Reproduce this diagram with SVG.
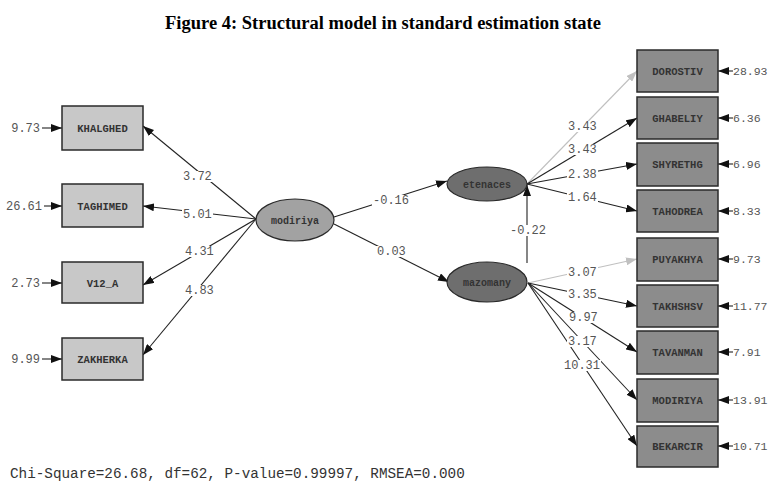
<svg xmlns="http://www.w3.org/2000/svg" width="768" height="489" viewBox="0 0 768 489">
<style>
.title{font-family:"Liberation Serif",serif;font-weight:bold;font-size:18.5px;fill:#000}
.box1 rect{fill:#c8c8c8;stroke:#2a2a2a;stroke-width:1.5}
.box2 rect{fill:#8c8c8c;stroke:#2a2a2a;stroke-width:1.5}
.bl{font-family:"Liberation Mono",monospace;font-weight:bold;font-size:10.5px;fill:#333;text-anchor:middle}
.el{font-family:"Liberation Mono",monospace;font-weight:bold;font-size:10px;fill:#333;text-anchor:middle}
.num{font-family:"Liberation Mono",monospace;font-size:12px;fill:#555}
.numr{font-family:"Liberation Mono",monospace;font-size:11.5px;fill:#555}
.lab text{font-family:"Liberation Mono",monospace;font-size:12px;fill:#555}
.lab rect{fill:#fff}
.c line{stroke:#222;stroke-width:1.1;fill:none}
.c line.a{marker-end:url(#ah)}
.c line.g{stroke:#c0c0c0;marker-end:url(#ahg)}
.foot{font-family:"Liberation Mono",monospace;font-size:14.3px;fill:#333}
</style>
<defs>
<marker id="ah" markerUnits="userSpaceOnUse" markerWidth="11" markerHeight="8" refX="11" refY="4" orient="auto"><path d="M0,0 L11,4 L0,8 z" fill="#111"/></marker>
<marker id="ahg" markerUnits="userSpaceOnUse" markerWidth="11" markerHeight="8" refX="11" refY="4" orient="auto"><path d="M0,0 L11,4 L0,8 z" fill="#c0c0c0"/></marker>
</defs>
<rect width="768" height="489" fill="#fff"/>
<text class="title" x="383" y="29" text-anchor="middle">Figure 4: Structural model in standard estimation state</text>

<g class="c" id="connectors">
<line class="a" x1="42" y1="128" x2="62" y2="128"/>
<line class="a" x1="44" y1="206" x2="62" y2="206"/>
<line class="a" x1="42" y1="283" x2="62" y2="283"/>
<line class="a" x1="42" y1="359" x2="62" y2="359"/>
<line class="a" x1="256" y1="219" x2="143" y2="126"/>
<line class="a" x1="256" y1="219" x2="143" y2="206"/>
<line class="a" x1="256" y1="219" x2="143" y2="285"/>
<line class="a" x1="256" y1="219" x2="143" y2="355"/>
<line class="a" x1="334" y1="217" x2="447" y2="181"/>
<line class="a" x1="334" y1="224" x2="449" y2="282"/>
<line class="a" x1="527" y1="263" x2="527" y2="185"/>
<line class="g" x1="527" y1="184" x2="637" y2="71"/>
<line class="a" x1="527" y1="184" x2="637" y2="118"/>
<line class="a" x1="527" y1="184" x2="637" y2="164"/>
<line class="a" x1="527" y1="184" x2="637" y2="211"/>
<line class="g" x1="528" y1="283" x2="637" y2="259"/>
<line class="a" x1="528" y1="283" x2="637" y2="306"/>
<line class="a" x1="528" y1="283" x2="637" y2="352"/>
<line class="a" x1="528" y1="283" x2="637" y2="400"/>
<line class="a" x1="528" y1="283" x2="637" y2="446"/>
<line class="a" x1="733" y1="71" x2="718" y2="71"/>
<line class="a" x1="733" y1="118" x2="718" y2="118"/>
<line class="a" x1="733" y1="164" x2="718" y2="164"/>
<line class="a" x1="733" y1="211" x2="718" y2="211"/>
<line class="a" x1="733" y1="259" x2="718" y2="259"/>
<line class="a" x1="733" y1="306" x2="718" y2="306"/>
<line class="a" x1="733" y1="352" x2="718" y2="352"/>
<line class="a" x1="733" y1="400" x2="718" y2="400"/>
<line class="a" x1="733" y1="446" x2="718" y2="446"/>
</g>

<g id="edge-labels" class="lab">
<rect x="182" y="171" width="31" height="11"/><text x="183" y="180">3.72</text>
<rect x="182" y="209" width="31" height="11"/><text x="183" y="218">5.01</text>
<rect x="184" y="246" width="31" height="11"/><text x="185" y="255">4.31</text>
<rect x="184" y="285" width="31" height="11"/><text x="185" y="294">4.83</text>
<rect x="372" y="195" width="38" height="11"/><text x="373" y="204">-0.16</text>
<rect x="376" y="246" width="31" height="11"/><text x="377" y="255">0.03</text>
<rect x="509" y="225" width="38" height="11"/><text x="510" y="234">-0.22</text>
<rect x="567" y="121" width="31" height="11"/><text x="568" y="130">3.43</text>
<rect x="567" y="144" width="31" height="11"/><text x="568" y="153">3.43</text>
<rect x="567" y="169" width="31" height="11"/><text x="568" y="178">2.38</text>
<rect x="567" y="192" width="31" height="11"/><text x="568" y="201">1.64</text>
<rect x="567" y="267" width="31" height="11"/><text x="568" y="276">3.07</text>
<rect x="567" y="289" width="31" height="11"/><text x="568" y="298">3.35</text>
<rect x="568" y="312" width="31" height="11"/><text x="569" y="321">9.97</text>
<rect x="567" y="336" width="31" height="11"/><text x="568" y="345">3.17</text>
<rect x="563" y="360" width="38" height="11"/><text x="564" y="369">10.31</text>
</g>

<g id="error-labels">
<text class="num" x="40" y="132" text-anchor="end">9.73</text>
<text class="num" x="42" y="210" text-anchor="end">26.61</text>
<text class="num" x="40" y="287" text-anchor="end">2.73</text>
<text class="num" x="40" y="363" text-anchor="end">9.99</text>
<text class="numr" x="733" y="75">28.93</text>
<text class="numr" x="733" y="122">6.36</text>
<text class="numr" x="733" y="168">6.96</text>
<text class="numr" x="733" y="215">8.33</text>
<text class="numr" x="733" y="263">9.73</text>
<text class="numr" x="733" y="310">11.77</text>
<text class="numr" x="733" y="356">7.91</text>
<text class="numr" x="733" y="404">13.91</text>
<text class="numr" x="733" y="450">10.71</text>
</g>

<g id="KHALGHED" class="box1"><rect x="62" y="106" width="81" height="44"/><text class="bl" x="102.5" y="132">KHALGHED</text></g>
<g id="TAGHIMED" class="box1"><rect x="62" y="184" width="81" height="43"/><text class="bl" x="102.5" y="210">TAGHIMED</text></g>
<g id="V12_A" class="box1"><rect x="62" y="262" width="81" height="41"/><text class="bl" x="102.5" y="287">V12_A</text></g>
<g id="ZAKHERKA" class="box1"><rect x="62" y="338" width="81" height="42"/><text class="bl" x="102.5" y="363">ZAKHERKA</text></g>

<g id="modiriya"><ellipse cx="295" cy="220" rx="39" ry="21" fill="#a2a2a2" stroke="#2a2a2a" stroke-width="1.2"/><text class="el" x="295" y="224">modiriya</text></g>
<g id="etenaces"><ellipse cx="487" cy="184" rx="40" ry="17" fill="#6e6e6e" stroke="#2a2a2a" stroke-width="1.2"/><text class="el" x="487" y="188">etenaces</text></g>
<g id="mazomany"><ellipse cx="487" cy="282" rx="40" ry="20" fill="#6e6e6e" stroke="#2a2a2a" stroke-width="1.2"/><text class="el" x="487" y="286">mazomany</text></g>

<g id="DOROSTIV" class="box2"><rect x="637" y="50" width="81" height="42"/><text class="bl" x="677.5" y="75">DOROSTIV</text></g>
<g id="GHABELIY" class="box2"><rect x="637" y="97" width="81" height="42"/><text class="bl" x="677.5" y="122">GHABELIY</text></g>
<g id="SHYRETHG" class="box2"><rect x="637" y="143" width="81" height="43"/><text class="bl" x="677.5" y="168">SHYRETHG</text></g>
<g id="TAHODREA" class="box2"><rect x="637" y="190" width="81" height="42"/><text class="bl" x="677.5" y="215">TAHODREA</text></g>
<g id="PUYAKHYA" class="box2"><rect x="637" y="238" width="81" height="43"/><text class="bl" x="677.5" y="263">PUYAKHYA</text></g>
<g id="TAKHSHSV" class="box2"><rect x="637" y="285" width="81" height="42"/><text class="bl" x="677.5" y="310">TAKHSHSV</text></g>
<g id="TAVANMAN" class="box2"><rect x="637" y="331" width="81" height="43"/><text class="bl" x="677.5" y="356">TAVANMAN</text></g>
<g id="MODIRIYA" class="box2"><rect x="637" y="379" width="81" height="43"/><text class="bl" x="677.5" y="404">MODIRIYA</text></g>
<g id="BEKARCIR" class="box2"><rect x="637" y="426" width="81" height="41"/><text class="bl" x="677.5" y="450">BEKARCIR</text></g>

<text class="foot" x="10" y="478">Chi-Square=26.68, df=62, P-value=0.99997, RMSEA=0.000</text>
</svg>
